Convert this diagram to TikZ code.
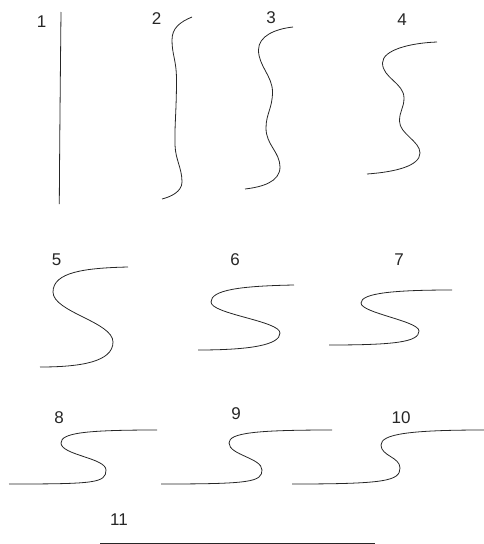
\documentclass[tikz,border=0pt]{standalone}
\usepackage{fontspec}
\setmainfont{Liberation Sans}
\begin{document}
\begin{tikzpicture}[x=1pt,y=-1pt,
  curve/.style={line width=0.8pt,color=black!85},
  lbl/.style={inner sep=0pt,font=\fontsize{17}{20}\selectfont,text=black!85}]
\useasboundingbox (0,0) rectangle (484,544);
% labels
\node[lbl] (l1) at (41.7,21.5) {1};
\node[lbl] (l2) at (156.7,18.3) {2};
\node[lbl] (l3) at (271,17.5) {3};
\node[lbl] (l4) at (402,19.2) {4};
\node[lbl] (l5) at (56.7,259.7) {5};
\node[lbl] (l6) at (235,259.7) {6};
\node[lbl] (l7) at (399,259.7) {7};
\node[lbl] (l8) at (59,417.5) {8};
\node[lbl] (l9) at (236,413.3) {9};
\node[lbl] (l10) at (401,418) {10};
\node[lbl] (l11) at (119,520) {11};
% 1
\draw[curve] (61,12) .. controls (60.3,80) and (59.6,150) .. (59.3,204);
% 2
\draw[curve] (192,17) .. controls (180,22) and (172,28) .. (172,40)
  .. controls (172,55) and (176.5,60) .. (176.5,80)
  .. controls (176.5,110) and (174.5,125) .. (175,145)
  .. controls (175.5,160) and (182,168) .. (182,182)
  .. controls (182,192) and (170,197) .. (162,199);
% 3
\draw[curve] (293,27) .. controls (275,29) and (258.5,36) .. (258.5,50)
  .. controls (258.5,66) and (272.5,76) .. (272.5,92)
  .. controls (272.5,108) and (266,114) .. (266,128)
  .. controls (266,145) and (280,152) .. (280,167)
  .. controls (280,182) and (262,187) .. (245,189);
% 4
\draw[curve] (437,42) .. controls (410,43) and (382.5,50) .. (382.5,63)
  .. controls (382.5,78) and (404,83) .. (404,98)
  .. controls (404,108) and (399.5,111) .. (399.5,121)
  .. controls (399.5,134) and (420,141) .. (420,153)
  .. controls (420,166) and (395,172) .. (367,174);
% 5
\draw[curve] (128,267) .. controls (85,268) and (53,272) .. (53,292)
  .. controls (53,312) and (113,322) .. (113,342)
  .. controls (113,362) and (80,367) .. (40,367);
% 6
\draw[curve] (294,285) .. controls (240,286) and (211,290) .. (211,302)
  .. controls (211,314) and (280,321) .. (280,333)
  .. controls (280,345) and (250,350) .. (198,350);
% 7
\draw[curve] (452,290) .. controls (395,290) and (361,293) .. (361,303)
  .. controls (361,313) and (419,321) .. (419,331)
  .. controls (419,342) and (395,345) .. (329,345);
% 8
\draw[curve] (157,430) .. controls (85,430) and (61,433) .. (61,443)
  .. controls (61,455) and (106,458) .. (106,470)
  .. controls (106,483) and (95,484) .. (9,484);
% 9
\draw[curve] (332,430) .. controls (255,430) and (229,433) .. (229,443)
  .. controls (229,455) and (262,458) .. (262,470)
  .. controls (262,482) and (250,484) .. (161,484);
% 10
\draw[curve] (484,430) .. controls (410,430) and (381,434) .. (381,445)
  .. controls (381,456) and (400,457) .. (400,468)
  .. controls (400,481) and (385,484) .. (292,484);
% 11
\draw[curve] (100,543) -- (375,543);
\end{tikzpicture}
\end{document}
